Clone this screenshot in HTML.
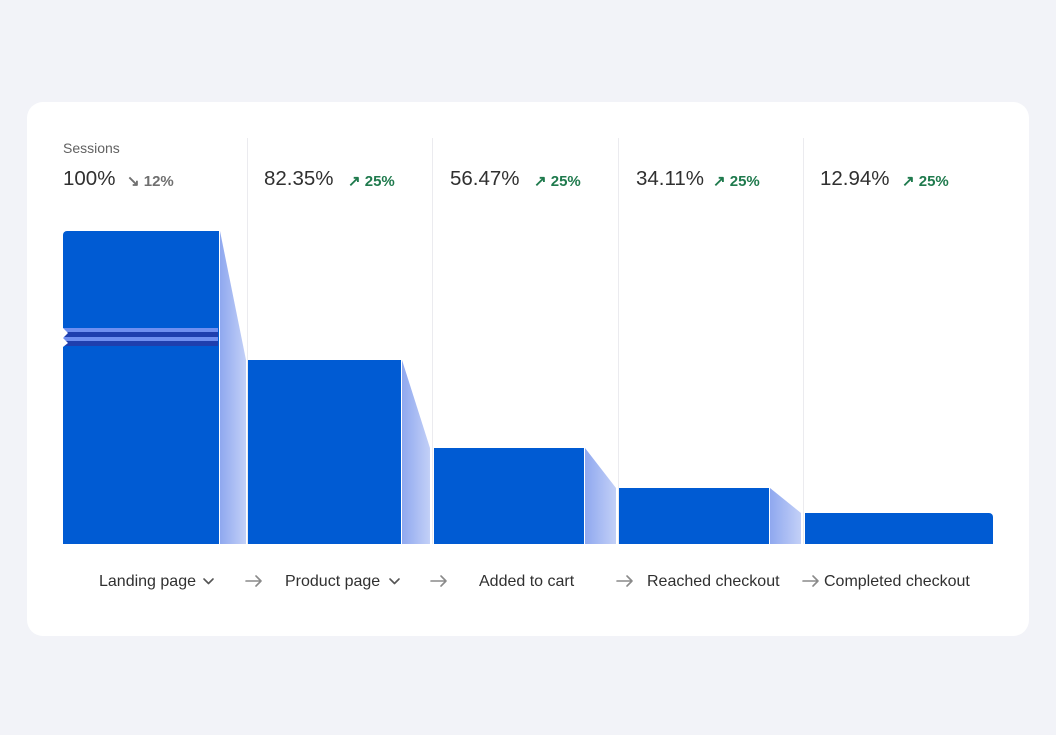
<!DOCTYPE html>
<html><head><meta charset="utf-8"><style>
body{margin:0;width:1056px;height:735px;background:#f2f3f8;font-family:"Liberation Sans",sans-serif;position:relative;overflow:hidden}
.card{position:absolute;left:27px;top:102px;width:1002px;height:534px;background:#fff;border-radius:16px}
.t{position:absolute;white-space:nowrap}
.l{font-size:16px;color:#303030;top:573px}
</style></head><body>
<div class="card"></div>
<svg width="1056" height="735" style="position:absolute;left:0;top:0">
<defs><linearGradient id="g" x1="0" x2="1"><stop offset="0" stop-color="#8fa8ef"/><stop offset="1" stop-color="#c3d0f7"/></linearGradient></defs>
<g stroke="#ebebef" stroke-width="1">
<line x1="247.5" y1="138" x2="247.5" y2="544"/><line x1="432.5" y1="138" x2="432.5" y2="544"/>
<line x1="618.5" y1="138" x2="618.5" y2="544"/><line x1="803.5" y1="138" x2="803.5" y2="544"/>
</g>
<path d="M63,235 a4,4 0 0 1 4,-4 H219 V544 H63Z" fill="#005bd3"/>
<rect x="63" y="328" width="155" height="4" fill="#6f8ff0"/>
<rect x="63" y="332" width="155" height="5" fill="#1f3fae"/>
<rect x="63" y="337" width="155" height="4" fill="#6f8ff0"/>
<rect x="63" y="341" width="155" height="5" fill="#1f3fae"/>
<path d="M63,328 L68,333 L63,338 L68,343 L63,347Z" fill="#fff"/>
<path d="M220,231 L246,360 V544 H220Z" fill="url(#g)"/>
<rect x="248" y="360" width="153" height="184" fill="#005bd3"/>
<path d="M402,360 L430,448 V544 H402Z" fill="url(#g)"/>
<rect x="434" y="448" width="150" height="96" fill="#005bd3"/>
<path d="M585,448 L616,488 V544 H585Z" fill="url(#g)"/>
<rect x="619" y="488" width="150" height="56" fill="#005bd3"/>
<path d="M770,488 L801,513 V544 H770Z" fill="url(#g)"/>
<path d="M805,513 H989 a4,4 0 0 1 4,4 V544 H805Z" fill="#005bd3"/>
<g fill="none" stroke="#555" stroke-width="1.6" stroke-linecap="round" stroke-linejoin="round">
<path d="M204,579 l4.5,4.5 l4.5,-4.5"/><path d="M390,579 l4.5,4.5 l4.5,-4.5"/>
</g>
<g fill="none" stroke="#8a8a8a" stroke-width="1.6" stroke-linecap="round" stroke-linejoin="round">
<path d="M246,581 h15 m-5,-5 l5,5 l-5,5"/>
<path d="M431,581 h15 m-5,-5 l5,5 l-5,5"/>
<path d="M617,581 h15 m-5,-5 l5,5 l-5,5"/>
<path d="M803,581 h15 m-5,-5 l5,5 l-5,5"/>
</g>
</svg>
<div class="t" style="left:63px;top:140px;font-size:14px;color:#616161">Sessions</div>
<div class="t" style="left:63px;top:167px;font-size:20.5px;color:#303030">100%</div>
<div class="t" style="left:127px;top:172px;font-size:15px;color:#707070;font-weight:bold">↘ 12%</div>
<div class="t" style="left:264px;top:167px;font-size:20.5px;color:#303030">82.35%</div>
<div class="t" style="left:348px;top:172px;font-size:15px;color:#1f7a4d;font-weight:bold">↗ 25%</div>
<div class="t" style="left:450px;top:167px;font-size:20.5px;color:#303030">56.47%</div>
<div class="t" style="left:534px;top:172px;font-size:15px;color:#1f7a4d;font-weight:bold">↗ 25%</div>
<div class="t" style="left:636px;top:167px;font-size:20.5px;color:#303030">34.11%</div>
<div class="t" style="left:713px;top:172px;font-size:15px;color:#1f7a4d;font-weight:bold">↗ 25%</div>
<div class="t" style="left:820px;top:167px;font-size:20.5px;color:#303030">12.94%</div>
<div class="t" style="left:902px;top:172px;font-size:15px;color:#1f7a4d;font-weight:bold">↗ 25%</div>
<div class="t l" style="left:99px">Landing page</div>
<div class="t l" style="left:285px">Product page</div>
<div class="t l" style="left:479px">Added to cart</div>
<div class="t l" style="left:647px">Reached checkout</div>
<div class="t l" style="left:824px">Completed checkout</div>
</body></html>
